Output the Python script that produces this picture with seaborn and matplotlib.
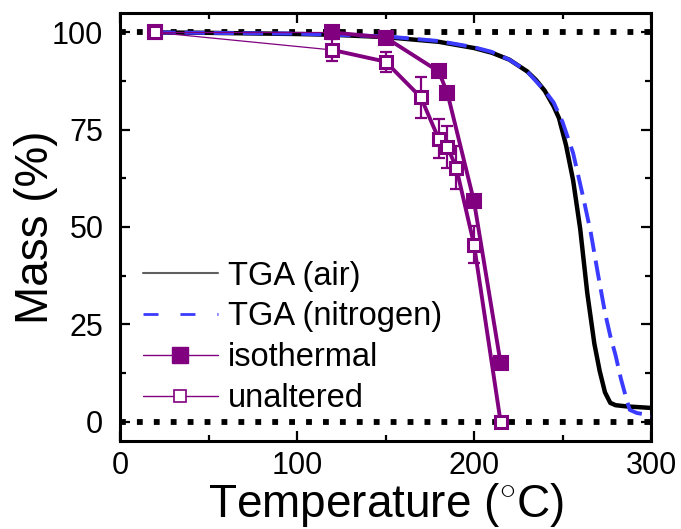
import numpy as np
import pandas as pd
import matplotlib
matplotlib.use("Agg")
import matplotlib.pyplot as plt
from matplotlib.lines import Line2D
from matplotlib.ticker import MultipleLocator
import seaborn as sns

# ---- data ----
tga_air_T = [20, 50, 100, 120, 150, 180, 200, 210, 220, 230, 235, 240, 245, 248, 252,
             256, 260, 264, 268, 271, 274, 277, 280, 286, 293, 300]
tga_air_mass = [100, 99.9, 99.6, 99.4, 98.8, 97.6, 96.0, 94.8, 93.0, 90.0, 87.8, 85.0,
                81.0, 78.0, 71.0, 62.0, 49.5, 33.0, 20.0, 13.0, 7.5, 4.8, 4.2, 3.9, 3.7, 3.5]

tga_n2_T = [20, 100, 150, 180, 200, 210, 220, 230, 240, 245, 250, 256, 262, 266, 270,
            274, 277, 280, 283, 286, 288, 292, 297, 300]
tga_n2_mass = [100, 99.7, 99.0, 97.8, 96.2, 95.0, 93.0, 90.0, 85.0, 82.0, 77.0, 69.0,
               57.0, 48.5, 38.0, 28.0, 22.0, 17.0, 11.0, 6.0, 3.0, 2.2, 1.8, 1.5]

iso_T = [20, 120, 150, 180, 185, 200, 215]
iso_mass = [100, 100, 98.7, 90.0, 84.4, 56.6, 15.1]
iso_err = [0, 0, 1.0, 0, 0, 1.5, 0]

unalt_T = [20, 120, 150, 170, 180, 185, 190, 200, 215]
unalt_mass = [100, 95.5, 92.5, 83.3, 72.7, 70.6, 65.2, 45.5, 0]
unalt_err = [0, 2.9, 2.6, 5.3, 5.0, 5.4, 5.5, 4.8, 0.5]

x_ticks = [0, 100, 200, 300]
y_ticks = [0, 25, 50, 75, 100]
ref_levels = [0, 100]

legend_labels = ["TGA (air)", "TGA (nitrogen)", "isothermal", "unaltered"]

# ---- style ----
sns.set_style("ticks")
plt.rcParams["font.family"] = ["Liberation Sans", "DejaVu Sans"]
plt.rcParams["mathtext.fontset"] = "custom"
plt.rcParams["mathtext.rm"] = "Liberation Sans"
plt.rcParams["mathtext.it"] = "Liberation Sans:italic"
for k in ["text.color", "axes.labelcolor", "xtick.color", "ytick.color", "axes.edgecolor"]:
    plt.rcParams[k] = "black"

PURPLE = "#800080"
BLUE = "#3b3bff"

fig = plt.figure(figsize=(6.81, 5.29), dpi=100)
ax = fig.add_axes([120 / 681, 1 - 441 / 529, 531 / 681, 428 / 529])

# reference dotted lines
for lvl in ref_levels:
    sns.lineplot(x=[0, 300], y=[lvl, lvl], ax=ax, color="black", lw=4.2,
                 linestyle=(0, (1, 1.9)), zorder=2)

# TGA curves
sns.lineplot(x=tga_air_T, y=tga_air_mass, ax=ax, color="black", lw=3.2,
             sort=False, estimator=None, zorder=3)
sns.lineplot(x=tga_n2_T, y=tga_n2_mass, ax=ax, color=BLUE, lw=2.8,
             linestyle=(0, (5.2, 2.3)), sort=False, estimator=None, zorder=4)

def series(T, M, E, filled, z):
    df = pd.DataFrame({"T": T, "M": M})
    # thin first segment
    sns.lineplot(data=df.iloc[:2], x="T", y="M", ax=ax, color=PURPLE, lw=0.9,
                 sort=False, estimator=None, zorder=z)
    # thick remaining line
    sns.lineplot(data=df.iloc[1:], x="T", y="M", ax=ax, color=PURPLE, lw=2.8,
                 sort=False, estimator=None, zorder=z)
    ax.errorbar(T, M, yerr=E, fmt="none", ecolor=PURPLE, elinewidth=1.6,
                capsize=4.6, capthick=1.6, zorder=z)
    if filled:
        ax.plot(T, M, ls="none", marker="s", ms=10, mfc=PURPLE, mec=PURPLE,
                mew=1.5, zorder=z + 0.5)
    else:
        ax.plot(T, M, ls="none", marker="s", ms=8, mfc="white", mec=PURPLE,
                mew=2.2, zorder=z + 0.5)

series(iso_T, iso_mass, iso_err, True, 5)
series(unalt_T, unalt_mass, unalt_err, False, 6)

# axes
ax.set_xlim(0, 300)
ax.set_ylim(-5, 105)
ax.set_xticks(x_ticks)
ax.set_yticks(y_ticks)
ax.xaxis.set_minor_locator(MultipleLocator(50))
ax.yaxis.set_minor_locator(MultipleLocator(12.5))
ax.tick_params(which="both", direction="in", top=True, right=True, width=1.6,
               labelsize=22)
ax.tick_params(which="major", length=7)
ax.tick_params(which="minor", length=4.5)
ax.tick_params(axis="y", which="major", pad=12)
ax.tick_params(axis="x", which="major", pad=7)
for s in ax.spines.values():
    s.set_linewidth(2.2)

ax.set_xlabel(r"Temperature ($^{\circ}$C)", fontsize=33)
ax.set_ylabel("Mass (%)", fontsize=33)
ax.xaxis.set_label_coords(0.5, -0.093)
ax.yaxis.set_label_coords(-0.117, 0.5)

# legend
handles = [
    Line2D([], [], color="#606060", lw=1.5),
    Line2D([], [], color=BLUE, lw=2.0, linestyle=(0, (5.4, 7.9))),
    Line2D([], [], color=PURPLE, lw=1.0, marker="s", ms=11, mfc=PURPLE, mec=PURPLE),
    Line2D([], [], color=PURPLE, lw=1.0, marker="s", ms=8, mfc="white", mec=PURPLE, mew=1.2),
]
ax.legend(handles, legend_labels, loc="lower left", bbox_to_anchor=(0.043, 0.063),
          frameon=False, fontsize=23.5, handlelength=2.3, handletextpad=0.3,
          labelspacing=0.3, borderpad=0, borderaxespad=0)

fig.savefig("out.png", dpi=100)
